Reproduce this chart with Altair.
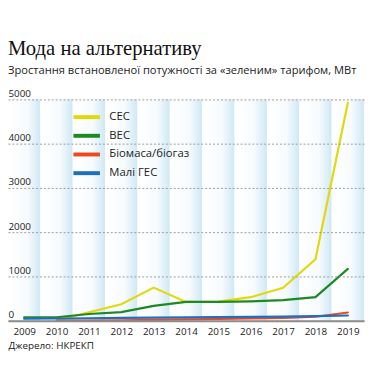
import altair as alt
import pandas as pd

years = [2009, 2010, 2011, 2012, 2013, 2014, 2015, 2016, 2017, 2018, 2019]
ces = [None, 3, 190, 370, 748, 425, 432, 531, 742, 1388, 4925]
ves = [76, 78, 151, 193, 334, 426, 426, 438, 465, 533, 1170]
bio = [None, 0, 5, 10, 18, 28, 38, 50, 62, 90, 185]
hydro = [45, 50, 55, 62, 68, 75, 80, 86, 92, 102, 118]
y_ticks = [0, 1000, 2000, 3000, 4000, 5000]

series_names = ["СЕС", "ВЕС", "Біомаса/біогаз", "Малі ГЕС"]
series_colors = ["#e2d80c", "#1c8a22", "#f0481e", "#1f6fc0"]
series_values = [ces, ves, bio, hydro]

rows = []
for name, vals in zip(series_names, series_values):
    for y, v in zip(years, vals):
        if v is not None:
            rows.append({"year": y, "value": v, "series": name})
df = pd.DataFrame(rows)

bands = pd.DataFrame({"x": [y - 0.5 for y in years], "x2": [y + 0.5 for y in years],
                      "v0": [0] * len(years), "v1": [5000] * len(years)})

W, H = 362, 225
xscale = alt.Scale(domain=[2008.5, 2019.5], nice=False, zero=False)
yscale = alt.Scale(domain=[0, 5000], nice=False)

grad = alt.Gradient(
    gradient="linear",
    x1=0, x2=1, y1=0, y2=0,
    stops=[
        alt.GradientStop(offset=0, color="#ffffff"),
        alt.GradientStop(offset=0.6, color="#f7fbfe"),
        alt.GradientStop(offset=1, color="#cfe8f5"),
    ],
)

x_axis = alt.Axis(
    values=years, format="d", grid=False, ticks=False, tickSize=0,
    domain=True, domainColor="#8c8c8c", domainWidth=2,
    labelFont="Open Sans", labelFontSize=10, labelFontWeight=500,
    labelColor="#222222", labelPadding=6, labelFlush=False, labelOverlap=False,
    title="Джерело: НКРЕКП", titleFont="Open Sans", titleFontSize=10,
    titleFontWeight=500, titleColor="#222222", titleAnchor="start",
    titleAlign="left", titleX=0, titleY=25, titleBaseline="middle",
    zindex=2,
)
y_axis = alt.Axis(
    values=y_ticks, format="d", grid=True,
    gridColor="#9a9a9a", gridDash=[2, 2], gridWidth=1,
    domain=False, ticks=False, tickSize=0, labelAlign="left",
    labelBaseline="bottom", labelPadding=0, labelOffset=-1,
    labelFont="Open Sans", labelFontSize=10, labelFontWeight=500,
    labelColor="#222222", labelFlush=False, labelOverlap=False,
    minExtent=0, title=None, zindex=1,
)

band_layer = alt.Chart(bands).mark_rect(fill=grad).encode(
    x=alt.X("x:Q", scale=xscale, axis=x_axis),
    x2="x2:Q",
    y=alt.Y("v0:Q", scale=yscale, axis=y_axis),
    y2="v1:Q",
)

lines = alt.Chart(df).mark_line(strokeWidth=2.2, strokeCap="round").encode(
    x=alt.X("year:Q", scale=xscale, axis=x_axis),
    y=alt.Y("value:Q", scale=yscale, axis=y_axis),
    color=alt.Color(
        "series:N",
        scale=alt.Scale(domain=series_names, range=series_colors),
        legend=alt.Legend(
            title=None, orient="none", legendX=71, legendY=9,
            symbolType="M-2,0H2", symbolSize=182, symbolStrokeWidth=4,
            labelFont="Open Sans", labelFontSize=11.5, labelFontWeight=500,
            labelColor="#222222", labelOffset=14, rowPadding=2,
        ),
    ),
    order=alt.Order("series:N"),
)

chart = alt.layer(band_layer, lines).properties(
    width=W,
    height=H,
    padding={"left": 0, "top": 28, "right": 2, "bottom": 5},
    title=alt.TitleParams(
        text="Мода на альтернативу",
        subtitle="Зростання встановленої потужності за «зеленим» тарифом, МВт",
        anchor="start", frame="group", font="Liberation Sans Narrow",
        fontSize=21, fontWeight="normal", color="#111111",
        subtitleFont="Open Sans", subtitleFontSize=11.3, subtitleFontWeight=500,
        subtitleColor="#222222", subtitlePadding=6, offset=12.5,
    ),
    background="#ffffff",
).configure_view(stroke=None)

chart.save("out.html", embed_options={"renderer": "svg", "actions": False})
